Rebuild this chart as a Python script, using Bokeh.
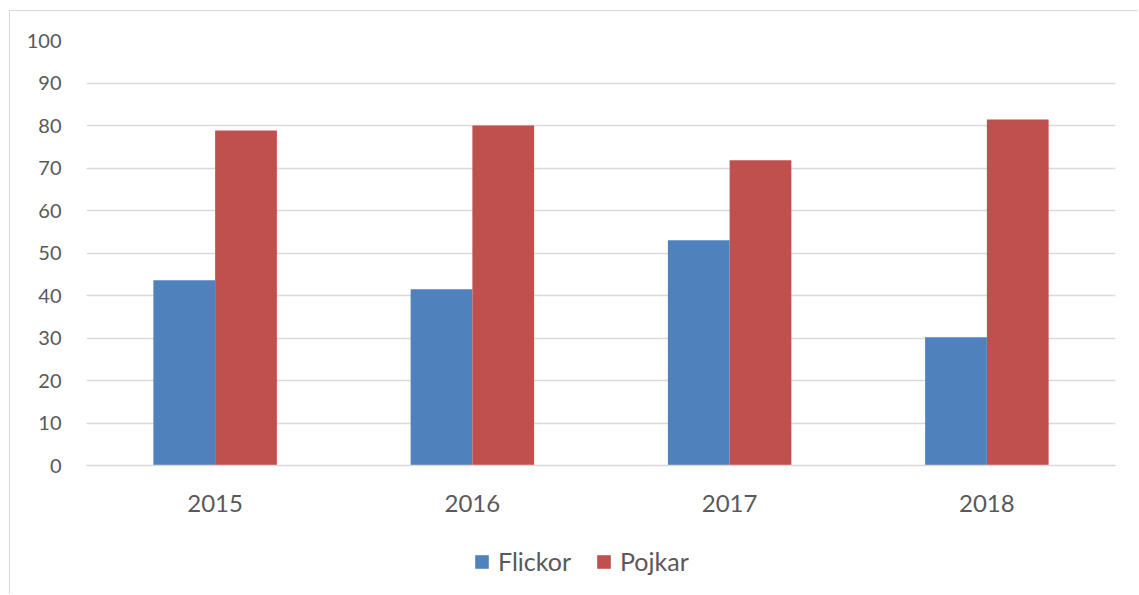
from bokeh.plotting import figure
from bokeh.models import ColumnDataSource, Legend, LegendItem, SingleIntervalTicker, FactorRange, Range1d
from bokeh.layouts import column
from bokeh.transform import dodge
from bokeh.embed import file_html
from bokeh.resources import INLINE

years = ["2015", "2016", "2017", "2018"]
flickor = [43.6, 41.5, 53.0, 30.2]
pojkar = [78.8, 80.0, 71.8, 81.4]
series_names = ["Flickor", "Pojkar"]
colors = ["#4f81bd", "#c0504d"]

FONT = "Lato"
TXT = "#595959"
GRID = "#d9d9d9"

src = ColumnDataSource(dict(year=years, Flickor=flickor, Pojkar=pojkar))

p = figure(x_range=FactorRange(*years), y_range=(0, 100),
           width=1128, height=524, output_backend="svg", toolbar_location=None,
           min_border_left=76, min_border_right=23, min_border_top=29,
           min_border_bottom=70)
p.outline_line_color = None
p.x_range.range_padding = 0
p.background_fill_color = "white"
p.border_fill_color = "white"

r1 = p.vbar(x=dodge("year", -0.12, range=p.x_range), top="Flickor", width=0.24,
            source=src, fill_color=colors[0], line_color=None)
r2 = p.vbar(x=dodge("year", 0.12, range=p.x_range), top="Pojkar", width=0.24,
            source=src, fill_color=colors[1], line_color=None)

p.yaxis.ticker = SingleIntervalTicker(interval=10)
p.yaxis.axis_line_color = None
p.yaxis.major_tick_line_color = None
p.yaxis.minor_tick_line_color = None
p.yaxis.major_label_standoff = 19
p.yaxis.major_label_text_font = FONT
p.yaxis.major_label_text_font_size = "20px"
p.yaxis.major_label_text_color = TXT

p.xaxis.axis_line_color = GRID
p.xaxis.axis_line_width = 1.5
p.xaxis.major_tick_line_color = None
p.xaxis.minor_tick_line_color = None
p.xaxis.major_label_standoff = 23
p.xaxis.major_label_text_font = FONT
p.xaxis.major_label_text_font_size = "24px"
p.xaxis.major_label_text_color = TXT

p.xgrid.grid_line_color = None
p.ygrid.grid_line_color = GRID
p.ygrid.grid_line_width = 1.5

# legend strip below the chart: same data, drawn out of view, only the legend shows
lg = figure(width=1128, height=59, output_backend="svg", toolbar_location=None,
            x_axis_type=None, y_axis_type=None,
            x_range=p.x_range, y_range=Range1d(1000, 1001),
            min_border=0)
lg.outline_line_color = None
lg.grid.grid_line_color = None
lg.background_fill_color = "white"
lg.border_fill_color = "white"
d1 = lg.vbar(x=dodge("year", -0.12, range=p.x_range), top="Flickor", width=0.24,
             source=src, fill_color=colors[0], line_color=None)
d2 = lg.vbar(x=dodge("year", 0.12, range=p.x_range), top="Pojkar", width=0.24,
             source=src, fill_color=colors[1], line_color=None)

legend = Legend(items=[LegendItem(label=series_names[0], renderers=[d1]),
                       LegendItem(label=series_names[1], renderers=[d2])],
                orientation="horizontal", location=(387, 18),
                margin=0, padding=0, spacing=24, label_standoff=8,
                glyph_width=17, glyph_height=17, label_height=26,
                label_text_font=FONT, label_text_font_size="25px",
                label_text_color=TXT, border_line_color=None,
                background_fill_alpha=0)
lg.add_layout(legend, "center")

layout = column(p, lg, spacing=0)
layout.margin = (10, 0, 0, 9)
layout.styles = {"border-left": "1px solid #d9d9d9", "border-top": "1px solid #d9d9d9"}

open("out.html", "w").write(file_html(layout, INLINE))
